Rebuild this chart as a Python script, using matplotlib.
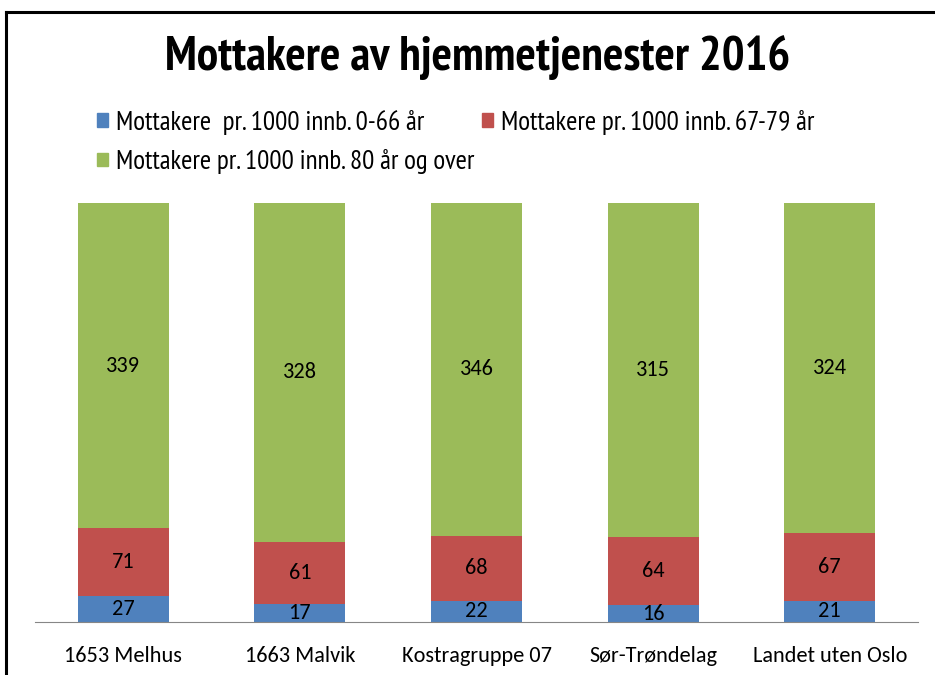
import numpy as np
import matplotlib
matplotlib.use("Agg")
import matplotlib.pyplot as plt
from matplotlib.lines import Line2D
from matplotlib.patches import Patch

categories = ["1653 Melhus", "1663 Malvik", "Kostragruppe 07", "Sør-Trøndelag", "Landet uten Oslo"]
age_0_66 = [27, 17, 22, 16, 21]
age_67_79 = [71, 61, 68, 64, 67]
age_80_plus = [339, 328, 346, 315, 324]
series_names = ["Mottakere  pr. 1000 innb. 0-66 år",
                "Mottakere pr. 1000 innb. 67-79 år",
                "Mottakere pr. 1000 innb. 80 år og over"]
colors = ["#4F81BD", "#C0504D", "#9BBB59"]

LABEL_FONT = ["Carlito", "DejaVu Sans"]
NARROW = ["PT Sans Narrow", "DejaVu Sans"]

fig = plt.figure(figsize=(9.35, 6.75), dpi=100)
ax = fig.add_axes([35/935, 1-622/675, (918-35)/935, (622-203)/675])

data = np.array([age_0_66, age_67_79, age_80_plus], dtype=float)
share = data / data.sum(axis=0)
x = np.arange(len(categories))
bottom = np.zeros(len(categories))
for vals, frac, col, name in zip(data, share, colors, series_names):
    ax.bar(x, frac, 0.515, bottom=bottom, color=col, label=name, zorder=2)
    for xi, b, f, v in zip(x, bottom, frac, vals):
        ax.text(xi, b + f/2, f"{int(v)}", ha="center", va="center",
                fontsize=16, family=LABEL_FONT, color="black", zorder=3)
    bottom += frac

ax.set_xlim(-0.5, len(categories) - 0.5)
ax.set_ylim(0, 1)
for s in ["top", "right", "left"]:
    ax.spines[s].set_visible(False)
ax.spines["bottom"].set_color("#868686")
ax.set_yticks([])
ax.set_xticks(x)
ax.set_xticklabels(categories, fontsize=16, family=LABEL_FONT)
ax.tick_params(axis="x", length=0, pad=17)

fig.text(478/935, 1-58/675, "Mottakere av hjemmetjenester 2016", ha="center", va="center",
         fontsize=34.5, fontweight="bold", family=NARROW)

leg_handles = [Patch(color=c) for c in colors]
order = [0, 2, 1]
fig.legend([leg_handles[i] for i in order], [series_names[i] for i in order],
           ncol=2, loc="upper left", bbox_to_anchor=(97/935, 1-110/675),
           borderaxespad=0, borderpad=0,
           frameon=False, prop={"family": NARROW, "size": 19.5},
           handlelength=0.4, handleheight=0.4, handletextpad=0.3,
           columnspacing=0.3, labelspacing=0.52)

# outer chart frame (left and top edges visible)
fig.add_artist(Line2D([6/935, 6/935], [0, 1-12/675], color="black", lw=2.2,
                      transform=fig.transFigure))
fig.add_artist(Line2D([6/935, 1], [1-12/675, 1-12/675], color="black", lw=2.2,
                      transform=fig.transFigure))

fig.savefig("out.png", dpi=100)
